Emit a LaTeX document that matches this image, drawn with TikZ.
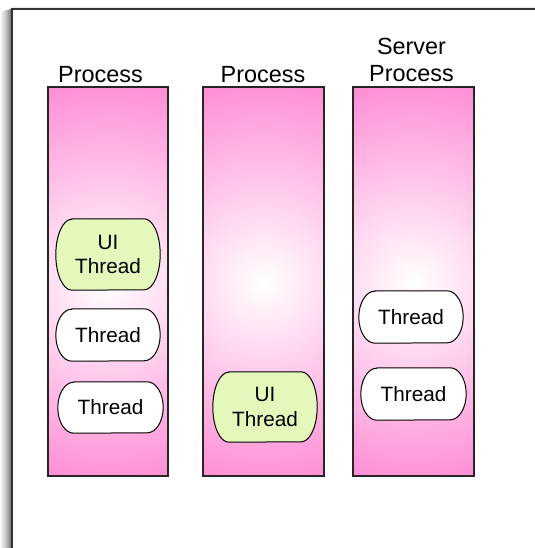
\documentclass[tikz,border=0pt]{standalone}
\usepackage{fontspec}
\setmainfont{Liberation Sans}
\definecolor{procpink}{HTML}{FF8AD4}
\definecolor{uigreen}{HTML}{E4F8BC}
\definecolor{framegray}{HTML}{333333}
\pgfdeclarelayer{bg}
\pgfdeclarelayer{mid}
\pgfsetlayers{bg,mid,main}
\newcommand{\pillshape}[3]{% node name, fill colour, half height
  \path[draw=black,line width=1bp,fill=#2]
    ([xshift=16bp]#1.north west) -- ([xshift=-16bp]#1.north east)
    arc[start angle=90,end angle=-90,x radius=16bp,y radius=#3bp]
    -- ([xshift=16bp]#1.south west)
    arc[start angle=270,end angle=90,x radius=16bp,y radius=#3bp] -- cycle;}
\begin{document}
\begin{tikzpicture}[x=1bp,y=-1bp,
  procbox/.style={draw=black!85,line width=1.3bp},
  thread/.style={minimum width=104bp,minimum height=52bp,font=\fontsize{20.8}{25}\selectfont,align=center,inner sep=0pt},
  uithread/.style={thread,minimum height=70bp},
  plabel/.style={font=\fontsize{23.5}{27}\selectfont,align=center,inner sep=0pt}]
\begin{pgfonlayer}{bg}
\useasboundingbox (0,0) rectangle (535,548);
\fill[white] (0,0) rectangle (535,548);
% frame shadow
\foreach \i/\c in {1/6,2/9,3/12,4/16,5/20,6/25,7/30,8/36,9/42,10/50,11/58}{
  \fill[black!\c] (\i,12-\i*0.3) rectangle (\i+1.05,548);
}
\foreach \i/\c in {1/4,2/7,3/11}{
  \fill[black!\c] (12,5+\i) rectangle (535,6+\i);
}
\draw[framegray,line width=1.5bp] (12,548) -- (12,9) -- (535,9);
% processes
\foreach \xa/\xb in {48/168,203/324,353/474}{
  \begin{scope}
    \clip (\xa,87) rectangle (\xb,476);
    \shade[inner color=white,outer color=procpink] ({(\xa+\xb)/2},282) circle (210);
  \end{scope}
  \draw[procbox] (\xa,87) rectangle (\xb,476);
}
\end{pgfonlayer}
\node[plabel,anchor=base] (l1) at (100.5,83) {Process};
\node[plabel,anchor=base] (l2) at (263,83) {Process};
\node[plabel] (l3) at (411.5,60) {Server\\Process};
% threads
\node[uithread,minimum height=71bp] (ui1) at (108,254.5) {UI\\Thread};
\node[thread] (t11) at (108,335) {Thread};
\node[thread,minimum width=105bp,minimum height=51bp] (t12) at (110.5,407.5) {Thread};
\node[uithread] (ui2) at (265,407) {UI\\Thread};
\node[thread] (t31) at (411,317) {Thread};
\node[thread,minimum width=105bp] (t32) at (413.5,394) {Thread};
\begin{pgfonlayer}{mid}
\pillshape{ui1}{uigreen}{35.5}
\pillshape{t11}{white}{26}
\pillshape{t12}{white}{25.5}
\pillshape{ui2}{uigreen}{35}
\pillshape{t31}{white}{26}
\pillshape{t32}{white}{26}
\end{pgfonlayer}
\end{tikzpicture}
\end{document}
